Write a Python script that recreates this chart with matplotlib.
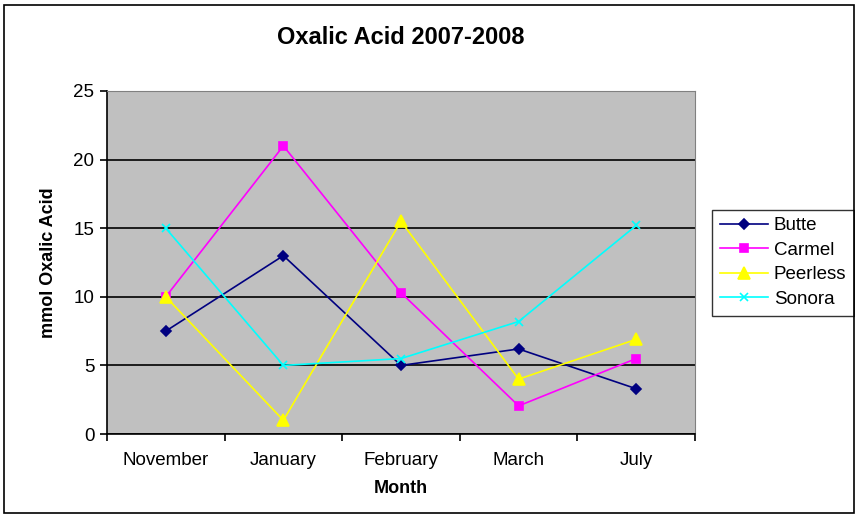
import matplotlib.pyplot as plt
import numpy as np
from matplotlib.patches import Rectangle

plt.rcParams['font.family'] = ['Liberation Sans', 'DejaVu Sans']

months = ['November', 'January', 'February', 'March', 'July']
butte = [7.5, 13.0, 5.0, 6.2, 3.3]
carmel = [10.0, 21.0, 10.3, 2.05, 5.5]
peerless = [10.0, 1.0, 15.5, 4.0, 6.9]
sonora = [15.0, 5.0, 5.5, 8.2, 15.2]

series = [
    ('Butte', butte, '#000080', 'D', 5.5),
    ('Carmel', carmel, '#FF00FF', 's', 6),
    ('Peerless', peerless, '#FFFF00', '^', 8),
    ('Sonora', sonora, '#00FFFF', 'x', 6),
]


def main():
    fig = plt.figure(figsize=(8.55, 5.17), dpi=100)
    ax = fig.add_axes([0.1251, 0.1605, 0.6878, 0.6635])
    ax.set_facecolor('#C0C0C0')

    x = np.arange(len(months))
    for name, vals, color, marker, ms in series:
        ax.plot(x, vals, color=color, marker=marker, markersize=ms,
                linewidth=1.2, label=name, markeredgewidth=1.2)

    ax.set_xlim(-0.5, len(months) - 0.5)
    ax.set_ylim(0, 25)
    ax.set_yticks(np.arange(0, 26, 5))
    ax.set_xticks(x)
    ax.set_xticklabels(months)
    ax.set_xticks(np.arange(-0.5, len(months)), minor=True)
    ax.tick_params(axis='x', which='major', length=0, pad=13, labelsize=13.5)
    ax.tick_params(axis='x', which='minor', length=5, width=1.2, direction='out')
    ax.tick_params(axis='y', length=5, width=1.2, direction='out', labelsize=13.5, pad=4)

    ax.grid(axis='y', color='black', linewidth=1.2)
    ax.set_axisbelow(True)
    for side in ['top', 'right']:
        ax.spines[side].set_color('#808080')
    for side in ['left', 'bottom']:
        ax.spines[side].set_color('black')
        ax.spines[side].set_linewidth(1.2)

    ax.set_title('Oxalic Acid 2007-2008', fontsize=17, fontweight='bold', pad=34)
    ax.set_xlabel('Month', fontsize=13, fontweight='bold', labelpad=8)
    ax.set_ylabel('mmol Oxalic Acid', fontsize=13, fontweight='bold', labelpad=12)

    leg = ax.legend(loc='center left', bbox_to_anchor=(1.029, 0.5), fontsize=13.5,
                    frameon=True, fancybox=False, borderpad=0.4, labelspacing=0.4,
                    handlelength=2.6, handletextpad=0.3, borderaxespad=0)
    leg.get_frame().set_edgecolor('black')
    leg.get_frame().set_linewidth(1.0)

    # thin frame around the whole chart
    fig.patches.append(Rectangle((0.005, 0.008), 0.994, 0.983, transform=fig.transFigure,
                                 fill=False, edgecolor='black', linewidth=1.2))

    fig.savefig('out.png', dpi=100)


main()
